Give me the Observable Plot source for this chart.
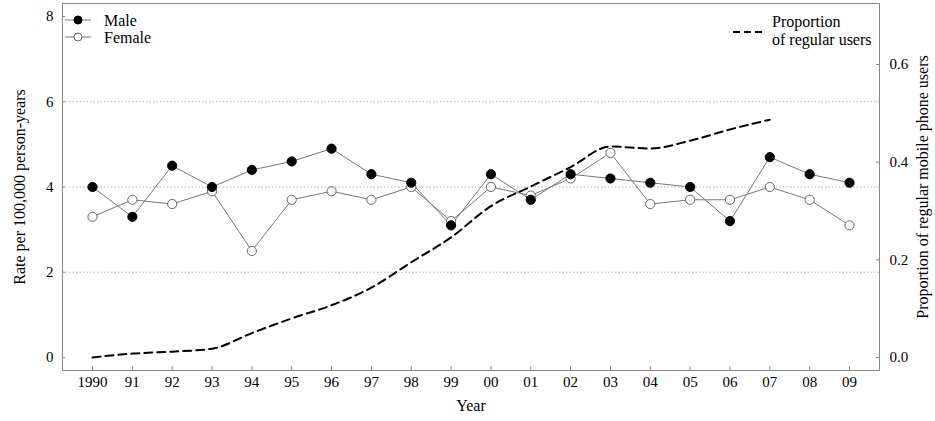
<!DOCTYPE html>
<html><head><meta charset="utf-8">
<script src="https://cdn.jsdelivr.net/npm/d3@7"></script>
<script src="https://cdn.jsdelivr.net/npm/@observablehq/plot@0.6"></script>
<style>body{margin:0;background:#fff;} #chart{position:relative;width:935px;height:421px;}</style>
</head><body><div id="chart"></div>
<script>
const years = [1990,1991,1992,1993,1994,1995,1996,1997,1998,1999,2000,2001,2002,2003,2004,2005,2006,2007,2008,2009];
const yearLabels = ["1990","91","92","93","94","95","96","97","98","99","00","01","02","03","04","05","06","07","08","09"];
const male =   [4.0,3.3,4.5,4.0,4.4,4.6,4.9,4.3,4.1,3.1,4.3,3.7,4.3,4.2,4.1,4.0,3.2,4.7,4.3,4.1];
const female = [3.3,3.7,3.6,3.9,2.5,3.7,3.9,3.7,4.0,3.2,4.0,3.8,4.2,4.8,3.6,3.7,3.7,4.0,3.7,3.1];
const propYears = [1990,1991,1992,1993,1994,1995,1996,1997,1998,1999,2000,2001,2002,2003,2004,2005,2006,2007];
const proportion = [0.0,0.008,0.012,0.018,0.05,0.08,0.107,0.143,0.195,0.246,0.31,0.35,0.39,0.432,0.428,0.444,0.467,0.487];
const leftTicks = [0,2,4,6,8];
const rightTicks = [0,0.2,0.4,0.6];
const gridValues = [2,4,6];

const K = 6.874/0.6;               // proportion -> rate units (secondary axis)
const xDomain = [1989.247, 2009.753];
const yDomain = [-0.305, 8.305];
const mL = 62, mR = 56, mT = 3, mB = 51, W = 935, H = 421;
const pxX = (W-mL-mR)/(xDomain[1]-xDomain[0]);
const pxY = (H-mT-mB)/(yDomain[1]-yDomain[0]);

const rows = years.map((y,i)=>({year:y, male:male[i], female:female[i]}));
const propRows = propYears.map((y,i)=>({year:y, p:proportion[i]}));
const font = "'Liberation Serif', 'Times New Roman', serif";

const plot = Plot.plot({
  width: W, height: H,
  marginLeft: mL, marginRight: mR, marginTop: mT, marginBottom: mB,
  style: {fontFamily: font, fontSize: "15px", color: "#000", background: "#fff", overflow: "visible"},
  x: {type: "linear", domain: xDomain},
  y: {domain: yDomain},
  marks: [
    Plot.ruleY(gridValues, {stroke: "#b0b0b0", strokeDasharray: "1.5,2", strokeWidth: 1}),
    Plot.frame({stroke: "#888"}),
    // inward ticks
    Plot.ruleX(years, {x: d=>d, y1: yDomain[0], y2: yDomain[0] + 4/pxY, stroke: "#888"}),
    Plot.ruleY(leftTicks, {y: d=>d, x1: xDomain[0], x2: xDomain[0] + 3/pxX, stroke: "#888"}),
    Plot.ruleY(rightTicks, {y: d=>d*K, x1: xDomain[1] - 3/pxX, x2: xDomain[1], stroke: "#888"}),
    Plot.line(rows, {x: "year", y: "female", stroke: "#777", strokeWidth: 1}),
    Plot.line(rows, {x: "year", y: "male", stroke: "#777", strokeWidth: 1}),
    Plot.line(propRows, {x: "year", y: d=>d.p*K, stroke: "#000", strokeWidth: 2, strokeDasharray: "8,5", curve: "monotone-x"}),
    Plot.dot(rows, {x: "year", y: "female", r: 4.6, fill: "#fff", stroke: "#666", strokeWidth: 1}),
    Plot.dot(rows, {x: "year", y: "male", r: 4.6, fill: "#000", stroke: "#000", strokeWidth: 1}),
    Plot.axisX(years, {anchor: "bottom", tickSize: 0, tickPadding: 6, fontSize: 15, label: null,
      tickFormat: d => yearLabels[years.indexOf(d)]}),
    Plot.axisY(leftTicks, {anchor: "left", tickSize: 0, tickPadding: 9, fontSize: 15, label: null}),
    Plot.axisY(rightTicks.map(t=>t*K), {anchor: "right", tickSize: 0, tickPadding: 10, fontSize: 15, label: null,
      tickFormat: d => (d/K).toFixed(1)}),
    Plot.text(["Rate per 100,000 person-years"], {frameAnchor: "left", dx: -43, rotate: -90, textAnchor: "middle", fontSize: 16}),
    Plot.text(["Proportion of regular mobile phone users"], {frameAnchor: "right", dx: 43, rotate: -90, textAnchor: "middle", fontSize: 16}),
    Plot.text(["Year"], {frameAnchor: "bottom", dy: 40, textAnchor: "middle", fontSize: 16})
  ]
});
document.getElementById("chart").appendChild(plot);

// Legends
const svg = d3.select(plot);
const lg = svg.append("g").attr("font-family", font).attr("font-size", 16).attr("text-anchor", "start").attr("fill", "#000");
const legendItems = [
  {label: "Male", fill: "#000", stroke: "#000", y: 20},
  {label: "Female", fill: "#fff", stroke: "#666", y: 37}
];
legendItems.forEach(it => {
  lg.append("line").attr("x1", 65).attr("x2", 91).attr("y1", it.y).attr("y2", it.y).attr("stroke", "#777");
  lg.append("circle").attr("cx", 78).attr("cy", it.y).attr("r", 4).attr("fill", it.fill).attr("stroke", it.stroke);
  lg.append("text").attr("x", 104).attr("y", it.y).attr("dy", "0.35em").text(it.label);
});
lg.append("line").attr("x1", 733).attr("x2", 762).attr("y1", 32).attr("y2", 32)
  .attr("stroke", "#000").attr("stroke-width", 2).attr("stroke-dasharray", "7,4");
lg.append("text").attr("x", 772).attr("y", 27).text("Proportion");
lg.append("text").attr("x", 772).attr("y", 45).text("of regular users");
</script></body></html>
